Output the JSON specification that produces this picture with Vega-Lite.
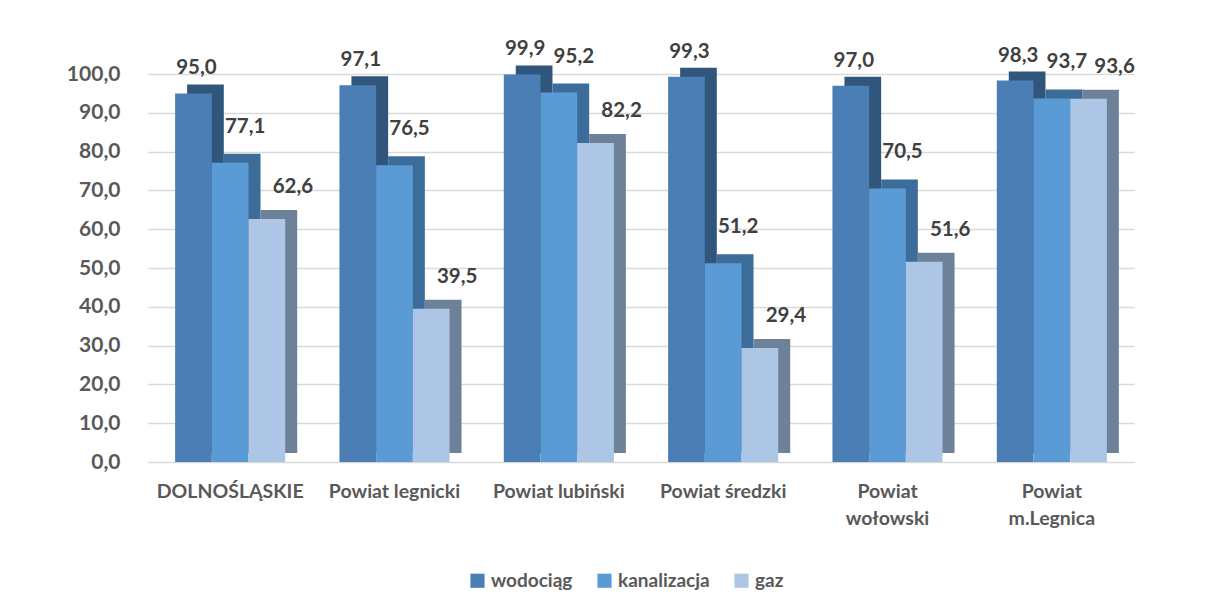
{
  "$schema": "https://vega.github.io/schema/vega-lite/v6.json",
  "width": 986,
  "height": 388,
  "autosize": {"type": "none"},
  "padding": {"left": 148, "top": 74, "right": 73, "bottom": 150},
  "background": "white",
  "config": {
    "locale": {"number": {"decimal": ",", "thousands": " ", "grouping": [3], "currency": ["", " zł"]}},
    "view": {"stroke": null},
    "font": "Lato"
  },
  "data": {
    "values": [
      {"region": "DOLNOŚLĄSKIE", "series": "wodociąg", "value": 95.0},
      {"region": "DOLNOŚLĄSKIE", "series": "kanalizacja", "value": 77.1},
      {"region": "DOLNOŚLĄSKIE", "series": "gaz", "value": 62.6},
      {"region": "Powiat legnicki", "series": "wodociąg", "value": 97.1},
      {"region": "Powiat legnicki", "series": "kanalizacja", "value": 76.5},
      {"region": "Powiat legnicki", "series": "gaz", "value": 39.5},
      {"region": "Powiat lubiński", "series": "wodociąg", "value": 99.9},
      {"region": "Powiat lubiński", "series": "kanalizacja", "value": 95.2},
      {"region": "Powiat lubiński", "series": "gaz", "value": 82.2},
      {"region": "Powiat średzki", "series": "wodociąg", "value": 99.3},
      {"region": "Powiat średzki", "series": "kanalizacja", "value": 51.2},
      {"region": "Powiat średzki", "series": "gaz", "value": 29.4},
      {"region": "Powiat wołowski", "series": "wodociąg", "value": 97.0},
      {"region": "Powiat wołowski", "series": "kanalizacja", "value": 70.5},
      {"region": "Powiat wołowski", "series": "gaz", "value": 51.6},
      {"region": "Powiat m.Legnica", "series": "wodociąg", "value": 98.3},
      {"region": "Powiat m.Legnica", "series": "kanalizacja", "value": 93.7},
      {"region": "Powiat m.Legnica", "series": "gaz", "value": 93.6}
    ]
  },
  "encoding": {
    "x": {
      "field": "region", "type": "nominal", "sort": null,
      "scale": {"paddingInner": 0.33, "paddingOuter": 0.165},
      "axis": {
        "title": null, "domain": false, "ticks": false, "labelAngle": 0,
        "labelPadding": 20, "labelFontSize": 19.5, "labelFontWeight": "bold",
        "labelColor": "#595959", "labelBaseline": "top", "labelLineHeight": 27,
        "labelExpr": "datum.value == 'Powiat wołowski' || datum.value == 'Powiat m.Legnica' ? split(datum.value, ' ') : datum.value"
      }
    },
    "y": {
      "field": "value", "type": "quantitative",
      "scale": {"domain": [0, 100], "nice": false},
      "axis": {
        "title": null, "values": [0, 10, 20, 30, 40, 50, 60, 70, 80, 90, 100], "format": ".1f",
        "domain": false, "ticks": false, "labelPadding": 28, "labelFontSize": 21,
        "labelFontWeight": "bold", "labelColor": "#595959",
        "grid": true, "gridColor": "#d9d9d9", "gridWidth": 1.5
      }
    }
  },
  "resolve": {"scale": {"color": "independent", "xOffset": "independent"}, "legend": {"color": "independent"}},
  "layer": [
    {
      "mark": {"type": "bar", "yOffset": -9, "y2Offset": -9},
      "encoding": {
        "xOffset": {"field": "series", "type": "nominal", "sort": ["wodociąg", "kanalizacja", "gaz"], "scale": {"paddingInner": 0, "paddingOuter": 0, "range": [12, 122.1]}},
        "color": {"field": "series", "type": "nominal", "scale": {"domain": ["wodociąg", "kanalizacja", "gaz"], "range": ["#30567c", "#3c6c99", "#6d8299"]}, "legend": null}
      }
    },
    {
      "layer": [
        {
          "mark": {"type": "bar"},
          "encoding": {
            "color": {
              "field": "series", "type": "nominal",
              "scale": {"domain": ["wodociąg", "kanalizacja", "gaz"], "range": ["#4a7eb4", "#5b9bd5", "#adc6e6"]},
              "legend": {
                "title": null, "orient": "none", "legendX": 320, "legendY": 497, "direction": "horizontal",
                "symbolType": "square", "symbolSize": 200, "symbolStrokeWidth": 0, "labelFontSize": 19,
                "labelFontWeight": "bold", "labelColor": "#595959", "columnPadding": 22
              }
            }
          }
        },
        {
          "transform": [{"filter": "datum.series == 'wodociąg'"}],
          "mark": {"type": "text", "baseline": "bottom", "dy": -15, "dx": 3, "fontSize": 20.5, "fontWeight": "bold", "color": "#404040"},
          "encoding": {"text": {"field": "value", "type": "quantitative", "format": ".1f"}}
        },
        {
          "transform": [{"filter": "datum.series == 'kanalizacja'"}],
          "mark": {"type": "text", "baseline": "bottom", "dy": -26, "dx": 15, "fontSize": 20.5, "fontWeight": "bold", "color": "#404040"},
          "encoding": {"text": {"field": "value", "type": "quantitative", "format": ".1f"}}
        },
        {
          "transform": [{"filter": "datum.series == 'gaz'"}],
          "mark": {"type": "text", "baseline": "bottom", "dy": -22, "dx": 26, "fontSize": 20.5, "fontWeight": "bold", "color": "#404040"},
          "encoding": {"text": {"field": "value", "type": "quantitative", "format": ".1f"}}
        }
      ],
      "encoding": {
        "xOffset": {"field": "series", "type": "nominal", "sort": ["wodociąg", "kanalizacja", "gaz"], "scale": {"paddingInner": 0, "paddingOuter": 0}}
      }
    }
  ]
}
